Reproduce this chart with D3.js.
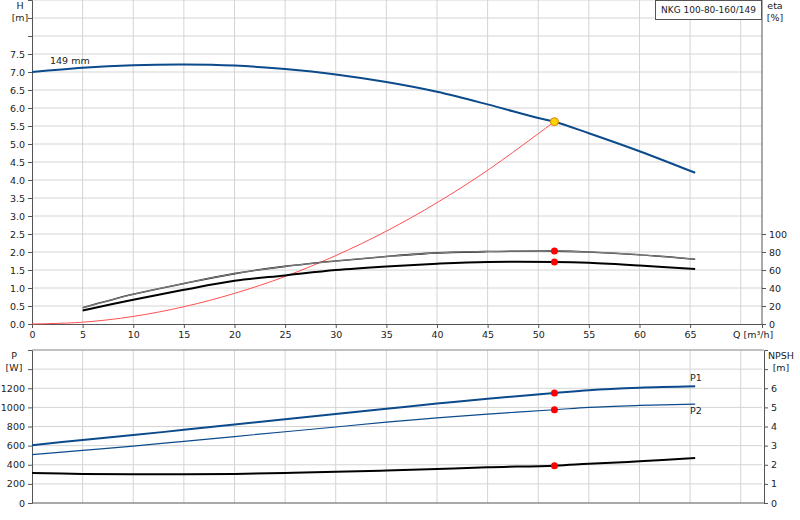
<!DOCTYPE html>
<html><head><meta charset="utf-8">
<script src="https://cdn.jsdelivr.net/npm/d3@7"></script>
<style>body{margin:0;background:#fff}text{font-family:"DejaVu Sans",sans-serif;font-size:9.5px;fill:#222}</style>
</head><body><svg id="c" width="800" height="520"></svg>
<script>
const qH=[0,5,10,15,20,25,30,35,40,45,50,51.6,55,60,65.5];
const hVals=[7.0,7.12,7.19,7.21,7.18,7.08,6.93,6.72,6.45,6.1,5.72,5.62,5.3,4.8,4.2];
const qEta=[5,10,15,20,25,30,35,40,45,51.6,55,60,65.5];
const etaUpper=[18,33,45,56,64,70,75,79,80.5,81,80,77,72];
const etaLower=[15,27,38,48,54,60,64,67,69,69,68,65,61];
const qSys=[0,5,10,15,20,25,30,35,40,45,51.6];
const sysVals=[0,0.05,0.21,0.48,0.85,1.32,1.9,2.58,3.37,4.27,5.62];
const qP=[0,5,10,15,20,25,30,35,40,45,51.6,55,60,65.5];
const p1Vals=[605,660,710,765,820,875,930,985,1040,1090,1150,1180,1205,1220];
const p2Vals=[505,550,595,645,695,745,795,845,890,930,975,1000,1020,1035];
const npshVals=[1.57,1.52,1.5,1.5,1.52,1.57,1.63,1.7,1.78,1.87,1.95,2.05,2.18,2.35];
const dutyQ=51.6;
const xTicks=[0,5,10,15,20,25,30,35,40,45,50,55,60,65];
const hTicks=[0,0.5,1,1.5,2,2.5,3,3.5,4,4.5,5,5.5,6,6.5,7,7.5];
const etaTicks=[0,20,40,60,80,100];
const pTicks=[0,200,400,600,800,1000,1200];
const npshTicks=[0,1,2,3,4,5,6];

const svg=d3.select("#c");
const blue="#0b4a8b", grid="#d4d4d4";
const x=d3.scaleLinear().domain([0,72.1]).range([32,762]);
const y=d3.scaleLinear().domain([0,9]).range([324,0]);
const yE=d3.scaleLinear().domain([0,100]).range([324,234]);
const yP=d3.scaleLinear().domain([0,1600]).range([503,350]);
const yN=d3.scaleLinear().domain([0,8]).range([503,350]);

function gridlines(yScale,vals,y0,y1){
  svg.append("g").selectAll("line").data(d3.range(5,75,5)).join("line")
    .attr("x1",d=>x(d)).attr("x2",d=>x(d)).attr("y1",y0).attr("y2",y1).attr("stroke",grid);
  svg.append("g").selectAll("line").data(vals).join("line")
    .attr("x1",32).attr("x2",762).attr("y1",d=>yScale(d)).attr("y2",d=>yScale(d)).attr("stroke",grid);
}
gridlines(y,d3.range(0.5,9.01,0.5),0,324);
gridlines(yP,d3.range(200,1601,200),350,503);

svg.append("g").attr("transform","translate(32,0)").call(d3.axisLeft(y).tickValues(hTicks).tickFormat(d3.format(".1f")).tickSize(4))
 .call(g=>g.select(".domain").attr("stroke","#555"));
svg.append("g").attr("transform","translate(32,0)").call(d3.axisLeft(y).tickValues([8,8.5]).tickFormat("").tickSize(4)).select(".domain").remove();
svg.append("g").attr("transform","translate(0,324)").call(d3.axisBottom(x).tickValues(xTicks).tickSize(4))
 .call(g=>g.select(".domain").attr("stroke","#555"));
svg.append("g").attr("transform","translate(762,0)").call(d3.axisRight(yE).tickValues(etaTicks).tickSize(4))
 .call(g=>g.select(".domain").remove());
svg.append("line").attr("x1",762).attr("x2",762).attr("y1",0).attr("y2",324).attr("stroke","#555");
svg.append("g").attr("transform","translate(32,0)").call(d3.axisLeft(yP).tickValues(pTicks).tickFormat(d3.format("d")).tickSize(4))
 .call(g=>g.select(".domain").attr("stroke","#555"));
svg.append("g").attr("transform","translate(32,0)").call(d3.axisLeft(yP).tickValues([1400]).tickFormat("").tickSize(4)).select(".domain").remove();
svg.append("g").attr("transform","translate(764,0)").call(d3.axisRight(yN).tickValues(npshTicks).tickSize(4))
 .call(g=>g.select(".domain").attr("stroke","#555"));
svg.append("g").attr("transform","translate(764,0)").call(d3.axisRight(yN).tickValues([7]).tickFormat("").tickSize(4)).select(".domain").remove();
svg.append("line").attr("x1",32).attr("x2",764).attr("y1",503).attr("y2",503).attr("stroke","#555");
svg.append("line").attr("x1",32).attr("x2",764).attr("y1",350).attr("y2",350).attr("stroke","#999");
svg.selectAll(".tick text").style("font-size","9.5px").attr("fill","#222");
svg.selectAll(".tick line").attr("stroke","#555");

const line=(xs,ys,sy)=>d3.line().curve(d3.curveCatmullRom).x((d,i)=>x(xs[i])).y(d=>sy(d))(ys);
function path(d,c,w){svg.append("path").attr("d",d).attr("fill","none").attr("stroke",c).attr("stroke-width",w);}

path(line(qSys,sysVals,y),"#ff5050",1);
path(line(qH,hVals,y),blue,2);
path(line(qEta,etaUpper,yE),"#111",1.6);
path(line(qEta,etaUpper,yE),"#fff",0.5);
path(line(qEta,etaLower,yE),"#000",2);
path(line(qP,p1Vals,yP),blue,2);
path(line(qP,p2Vals,yP),blue,1.2);
path(line(qP,npshVals,yN),"#000",2);

const iE=qEta.indexOf(dutyQ), iP=qP.indexOf(dutyQ);
[yE(etaUpper[iE]),yE(etaLower[iE]),yP(p1Vals[iP]),yP(p2Vals[iP]),yN(npshVals[iP])].forEach(v=>
  svg.append("circle").attr("cx",x(dutyQ)).attr("cy",v).attr("r",3.5).attr("fill","#f00"));
svg.append("circle").attr("cx",x(dutyQ)).attr("cy",y(hVals[qH.indexOf(dutyQ)])).attr("r",4).attr("fill","#ffd700").attr("stroke","#e08000");

function t(s,xx,yy,a="start",c="#222"){svg.append("text").attr("x",xx).attr("y",yy).attr("text-anchor",a).attr("fill",c).text(s);}
t("H",20,9,"middle");t("[m]",20,21,"middle");
t("eta",775,9,"middle");t("[%]",775,21,"middle");
t("Q [m³/h]",733,338);
t("149 mm",50,64);
t("P",14,359,"middle");t("[W]",14,371,"middle");
t("NPSH",781,359,"middle");t("[m]",781,371,"middle");
t("P1",690,381,"start",blue);t("P2",690,414,"start",blue);
svg.append("rect").attr("x",655.5).attr("y",0.5).attr("width",106).attr("height",19).attr("fill","#fff").attr("stroke","#555");
svg.append("text").attr("x",708.5).attr("y",13).attr("text-anchor","middle").style("font-size","9px").text("NKG 100-80-160/149");
</script></body></html>
